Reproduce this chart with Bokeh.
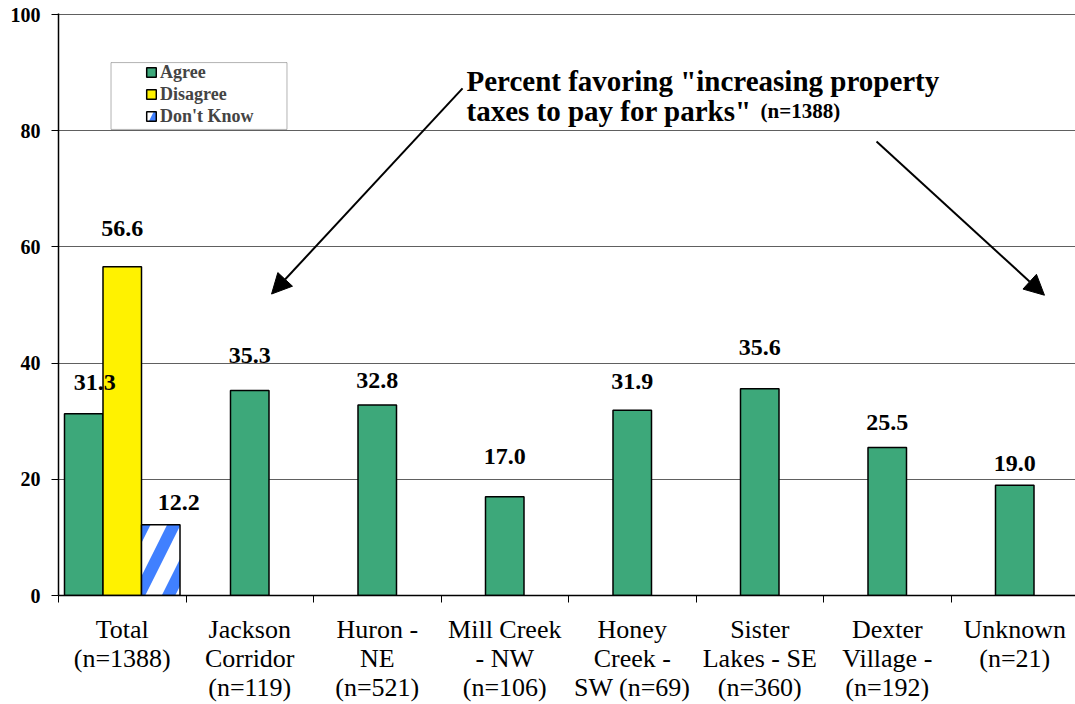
from bokeh.plotting import figure
from bokeh.models import (ColumnDataSource, FixedTicker, Arrow, NormalHead, Label,
                          BoxAnnotation, Legend, LegendItem)
from bokeh.core.properties import value
from bokeh.embed import file_html
from bokeh.resources import INLINE

# ---------------- data ----------------
categories = ["Total\n(n=1388)", "Jackson\nCorridor\n(n=119)", "Huron -\nNE\n(n=521)",
              "Mill Creek\n- NW\n(n=106)", "Honey\nCreek -\nSW (n=69)",
              "Sister\nLakes - SE\n(n=360)", "Dexter\nVillage -\n(n=192)", "Unknown\n(n=21)"]
agree = [31.3, 35.3, 32.8, 17.0, 31.9, 35.6, 25.5, 19.0]
disagree = [56.6]        # Total only
dont_know = [12.2]       # Total only
y_ticks = [0, 20, 40, 60, 80, 100]

# ---------------- style ----------------
GREEN = "#3da87a"
YELLOW = "#fff200"
BLUE = "#4080ff"
FONT = "Liberation Serif"
BW = 0.302
PX_PER_CAT = 127.5
W, H = 1075, 704
LEFT = 58

n = len(categories)
agree_x = [i - BW if i == 0 else i for i in range(n)]
dis_x = [0]
dk_x = [0 + BW]

p = figure(width=W, height=H, x_range=(-0.5, (W - LEFT) / PX_PER_CAT - 0.5),
           y_range=(0, 100.2), output_backend="svg", toolbar_location=None,
           min_border_left=LEFT, min_border_right=0, min_border_top=13, min_border_bottom=108,
           title=None)
p.outline_line_color = None
p.background_fill_color = "white"
p.xgrid.grid_line_color = None
p.ygrid.grid_line_color = "#606060"
p.ygrid.grid_line_width = 1
p.ygrid.ticker = FixedTicker(ticks=y_ticks)

# axes
p.yaxis.ticker = FixedTicker(ticks=y_ticks, minor_ticks=[])
p.yaxis.major_tick_out = 7
p.yaxis.major_tick_in = 0
p.yaxis.axis_line_color = "black"
p.yaxis.axis_line_width = 1.5
p.yaxis.major_tick_line_color = "black"
p.yaxis.major_label_text_font = FONT
p.yaxis.major_label_text_font_style = "bold"
p.yaxis.major_label_text_font_size = "20px"
p.yaxis.major_label_text_color = "black"
p.yaxis.major_label_standoff = 11

p.xaxis.ticker = FixedTicker(ticks=list(range(n)), minor_ticks=[i - 0.5 for i in range(n + 1)])
p.xaxis.major_label_overrides = {i: categories[i] for i in range(n)}
p.xaxis.major_tick_out = 0
p.xaxis.major_tick_in = 0
p.xaxis.minor_tick_out = 7
p.xaxis.minor_tick_in = 0
p.xaxis.minor_tick_line_color = "black"
p.xaxis.axis_line_color = "black"
p.xaxis.axis_line_width = 1.5
p.xaxis.major_label_text_font = FONT
p.xaxis.major_label_text_font_size = "26px"
p.xaxis.major_label_text_color = "black"
p.xaxis.major_label_text_line_height = 1.0
p.xaxis.major_label_standoff = 12

# bars
r_agree = p.vbar(x=agree_x, top=agree, width=BW, bottom=0, fill_color=GREEN,
                 line_color="black", line_width=1.5)
r_dis = p.vbar(x=dis_x, top=disagree, width=BW, bottom=0, fill_color=YELLOW,
               line_color="black", line_width=1.5)
r_dk = p.vbar(x=dk_x, top=dont_know, width=BW, bottom=0, fill_color="white",
              hatch_pattern="right_diagonal_line", hatch_color=BLUE, hatch_weight=12,
              hatch_scale=60, line_color="black", line_width=1.5)

# value labels
lab_x = [agree_x[0], dis_x[0], dk_x[0]] + agree_x[1:]
lab_v = [agree[0], disagree[0], dont_know[0]] + agree[1:]
label_dx = [11, 0, 18, 0, 0, 0, 0, 0, 0, 0]
label_dy = [31, 38, 22, 35, 24, 40, 29, 41, 25, 22]
lsrc = ColumnDataSource(dict(x=lab_x, y=lab_v, text=[f"{v:.1f}" for v in lab_v],
                             dx=label_dx, dy=[-d for d in label_dy]))
p.text(x="x", y="y", text="text", source=lsrc, x_offset="dx", y_offset="dy",
       text_font=value(FONT), text_font_style="bold", text_font_size="24px",
       text_align="center", text_baseline="middle", text_color="black")

# legend box and legend
box = BoxAnnotation(left=-0.088, right=1.292, bottom=80.24, top=91.75,
                    fill_color="white", fill_alpha=1.0, line_color="black", line_width=1)
p.add_layout(box)
legend = Legend(items=[LegendItem(label="Agree", renderers=[r_agree]),
                       LegendItem(label="Disagree", renderers=[r_dis]),
                       LegendItem(label="Don't Know", renderers=[r_dk])],
                location=(87, 468), padding=0, margin=0, spacing=0, label_height=22,
                glyph_height=12, glyph_width=12, label_standoff=3,
                border_line_alpha=0, background_fill_alpha=0,
                label_text_font=FONT, label_text_font_style="bold",
                label_text_font_size="18px")
p.add_layout(legend, "center")

# title text
p.add_layout(Label(x=2.70, y=88.66, text='Percent favoring "increasing property',
                   text_font=FONT, text_font_style="bold", text_font_size="29px",
                   text_baseline="alphabetic", text_color="black"))
p.add_layout(Label(x=2.70, y=83.33, text='taxes to pay for parks"',
                   text_font=FONT, text_font_style="bold", text_font_size="29px",
                   text_baseline="alphabetic", text_color="black"))
p.add_layout(Label(x=5.006, y=83.33, text='(n=1388)',
                   text_font=FONT, text_font_style="bold", text_font_size="21px",
                   text_baseline="alphabetic", text_color="black"))

# arrows
arrow_start_x = [2.669, 5.916]
arrow_start_y = [87.3, 78.18]
arrow_end_x = [1.171, 7.233]
arrow_end_y = [51.9, 51.7]
for xs, ys, xe, ye in zip(arrow_start_x, arrow_start_y, arrow_end_x, arrow_end_y):
    p.add_layout(Arrow(end=NormalHead(size=20, fill_color="black", line_color="black"),
                       x_start=xs, y_start=ys, x_end=xe, y_end=ye,
                       line_width=2, line_color="black"))

open("out.html", "w").write(file_html(p, INLINE))
